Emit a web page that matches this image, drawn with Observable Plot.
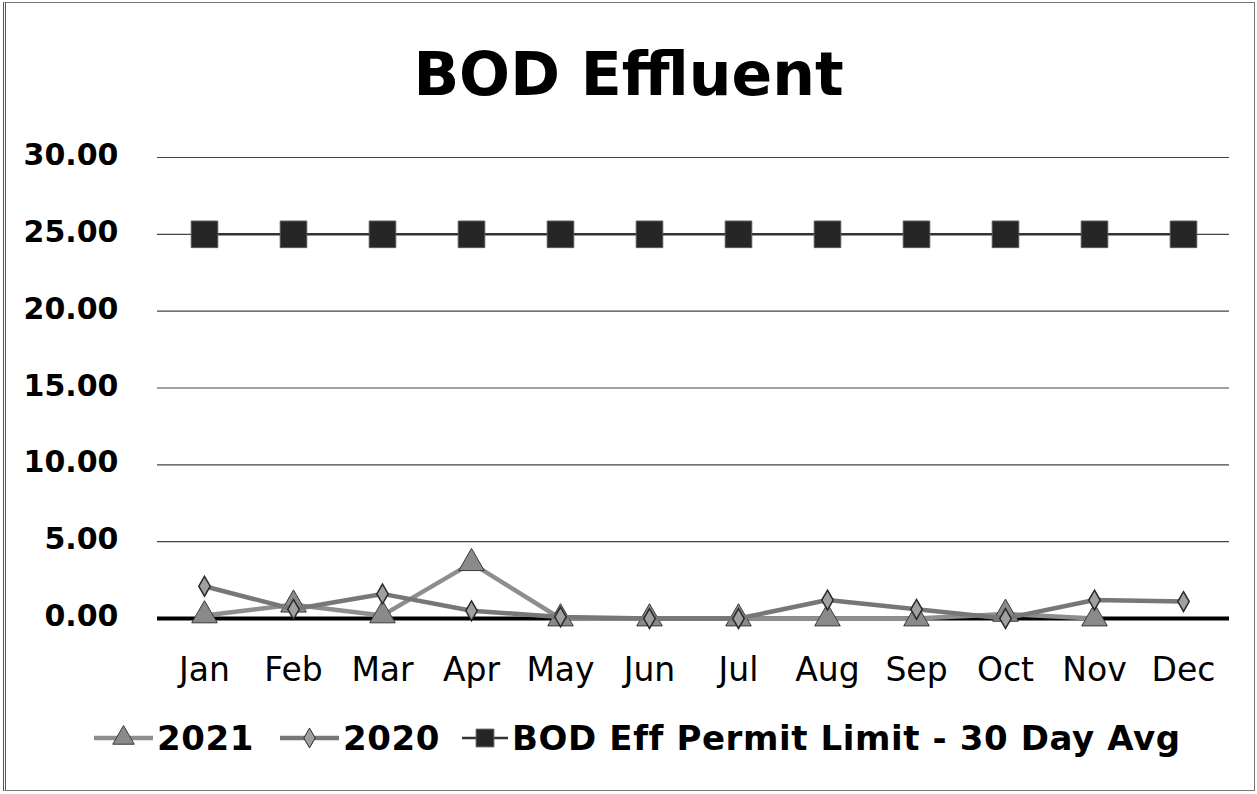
<!DOCTYPE html>
<html>
<head>
<meta charset="utf-8">
<script src="https://cdn.jsdelivr.net/npm/d3@7"></script>
<script src="https://cdn.jsdelivr.net/npm/@observablehq/plot@0.6"></script>
<style>
  html, body { margin: 0; padding: 0; background: #fff; }
  #wrap { position: relative; width: 1257px; height: 794px; overflow: hidden; font-family: "DejaVu Sans", sans-serif; color: #000; }
  #frame { position: absolute; left: 3px; top: 2px; width: 1248px; height: 787px; border: 1px solid #777; border-left: 3px double #555; pointer-events: none; }
  #title { margin: 0; box-sizing: border-box; height: 130px; padding-top: 44px; line-height: 60px; font-size: 60px; font-weight: bold; text-align: center; }
  #chart svg { display: block; }
  #legend { box-sizing: border-box; padding-top: 8px; padding-left: 92px; display: flex; align-items: center; height: 48px; }
  #legend .item { display: flex; align-items: center; }
  #legend .lab { font-size: 34px; font-weight: bold; line-height: 40px; white-space: nowrap; letter-spacing: 0.6px; }
</style>
</head>
<body>
<div id="wrap">
  <div id="title">BOD Effluent</div>
  <div id="chart"></div>
  <div id="legend"></div>
  <div id="frame"></div>
</div>
<script>
const months = ["Jan","Feb","Mar","Apr","May","Jun","Jul","Aug","Sep","Oct","Nov","Dec"];
const bod2021 = [0.2, 0.9, 0.2, 3.6, 0.0, 0.0, 0.0, 0.0, 0.0, 0.3, 0.0, null];
const bod2020 = [2.1, 0.6, 1.6, 0.5, 0.1, 0.0, 0.0, 1.2, 0.6, 0.0, 1.2, 1.1];
const permitLimit = [25, 25, 25, 25, 25, 25, 25, 25, 25, 25, 25, 25];
const yTicks = [0, 5, 10, 15, 20, 25, 30];
const seriesNames = ["2021", "2020", "BOD Eff Permit Limit - 30 Day Avg"];

const toRows = (vals) => months.map((m, i) => ({month: m, value: vals[i]})).filter(d => d.value != null);
const rows2021 = toRows(bod2021);
const rows2020 = toRows(bod2020);
const rowsPermit = toRows(permitLimit);

const styles = {
  s2021: {line: "#8e8e8e", fill: "#8a8a8a", stroke: "#3a3a3a", symbol: "triangle", r: 9.5, w: 4.5},
  s2020: {line: "#777777", fill: "#a0a0a0", stroke: "#2a2a2a", symbol: "diamond", r: 6, w: 4.5},
  sPermit: {line: "#333333", fill: "#262626", stroke: "#555555", symbol: "square", r: 15, w: 2.5}
};

const chart = Plot.plot({
  width: 1257,
  height: 580,
  marginTop: 27,
  marginBottom: 92,
  marginLeft: 157,
  marginRight: 28,
  x: {type: "point", domain: months, padding: 0.5},
  y: {domain: [0, 30]},
  style: {fontFamily: "DejaVu Sans", background: "transparent", overflow: "visible", color: "#000"},
  marks: [
    Plot.gridY(yTicks.filter(t => t > 0), {stroke: "#444", strokeOpacity: 1, strokeWidth: 1.2}),
    Plot.ruleY([0], {stroke: "#000", strokeWidth: 4}),
    Plot.axisY(yTicks, {tickFormat: d3.format(".2f"), tickSize: 0, tickPadding: 39, fontSize: 30, fontWeight: "bold", label: null, dy: -2}),
    Plot.axisX({tickSize: 0, tickPadding: 39, fontSize: 33, label: null}),
    Plot.line(rows2021, {x: "month", y: "value", stroke: styles.s2021.line, strokeWidth: styles.s2021.w}),
    Plot.dot(rows2021, {x: "month", y: "value", symbol: "triangle", r: styles.s2021.r, fill: styles.s2021.fill, stroke: styles.s2021.stroke, strokeWidth: 1}),
    Plot.line(rows2020, {x: "month", y: "value", stroke: styles.s2020.line, strokeWidth: styles.s2020.w}),
    Plot.dot(rows2020, {x: "month", y: "value", symbol: "diamond", r: styles.s2020.r, fill: styles.s2020.fill, stroke: styles.s2020.stroke, strokeWidth: 1.5}),
    Plot.line(rowsPermit, {x: "month", y: "value", stroke: styles.sPermit.line, strokeWidth: styles.sPermit.w}),
    Plot.dot(rowsPermit, {x: "month", y: "value", symbol: "square", r: styles.sPermit.r, fill: styles.sPermit.fill, stroke: styles.sPermit.stroke, strokeWidth: 1})
  ]
});
document.getElementById("chart").appendChild(chart);

// Legend
const legend = d3.select("#legend");
const legendItems = [
  {name: seriesNames[0], st: styles.s2021, lr: 8, margin: 0, sw: 63},
  {name: seriesNames[1], st: styles.s2020, lr: 6, margin: 24, sw: 63},
  {name: seriesNames[2], st: styles.sPermit, lr: 10, margin: 20, sw: 50}
];
legendItems.forEach(it => {
  const item = legend.append("div").attr("class", "item").style("margin-left", it.margin + "px");
  const svg = item.append("svg").attr("width", it.sw).attr("height", 40);
  svg.append("line").attr("x1", 2).attr("x2", it.sw - 2).attr("y1", 20).attr("y2", 20)
    .attr("stroke", it.st.line).attr("stroke-width", it.st.w);
  const sym = {triangle: d3.symbolTriangle, diamond: d3.symbolDiamond, square: d3.symbolSquare}[it.st.symbol];
  svg.append("path").attr("transform", `translate(${it.sw / 2},20)`)
    .attr("d", d3.symbol(sym, Math.PI * it.lr * it.lr)())
    .attr("fill", it.st.fill).attr("stroke", it.st.stroke).attr("stroke-width", 1);
  item.append("span").attr("class", "lab").style("margin-left", "2px").text(it.name);
});
</script>
</body>
</html>
